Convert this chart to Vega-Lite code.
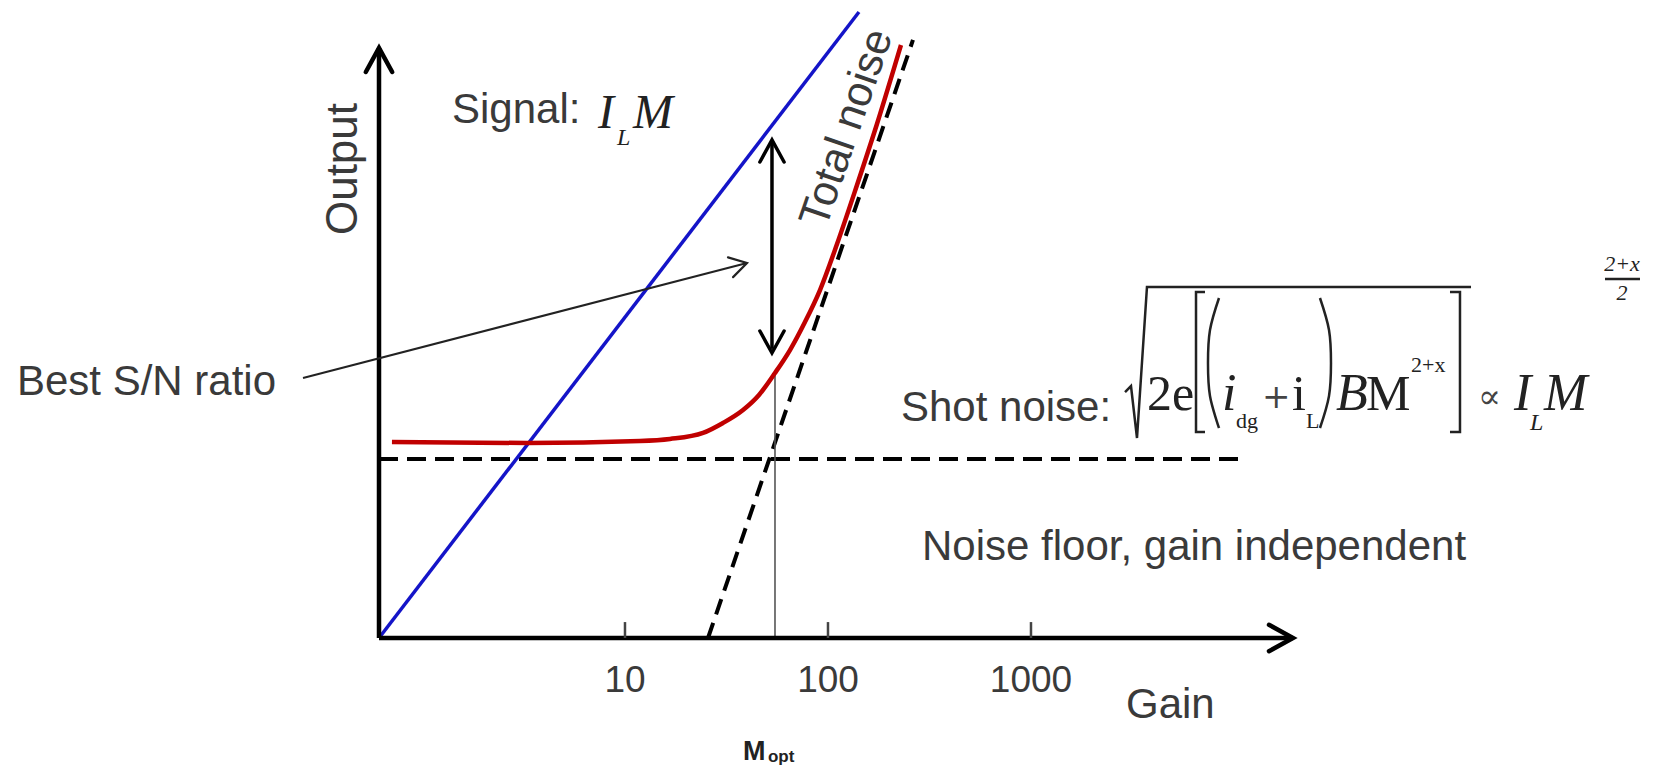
{
  "$schema": "https://vega.github.io/schema/vega-lite/v6.json",
  "autosize": {"type": "none"},
  "padding": {"left": 379, "top": 48, "right": 372, "bottom": 128},
  "width": 914,
  "height": 590,
  "background": "white",
  "config": {"view": {"stroke": null}},
  "datasets": {
    "signal": [{"g": 0.6141, "v": 0}, {"g": 142.1, "v": 10.61}],
    "floor": [{"g": 0.6141, "v": 3.034}, {"g": 11330, "v": 3.034}],
    "shot": [{"g": 25.64, "v": 0}, {"g": 262.2, "v": 10.136}],
    "total": [
      {"g": 0.7113, "v": 3.322}, {"g": 3.29, "v": 3.305}, {"g": 11.85, "v": 3.339},
      {"g": 16.66, "v": 3.373}, {"g": 24.23, "v": 3.475}, {"g": 30.39, "v": 3.644},
      {"g": 38.14, "v": 3.864}, {"g": 45.72, "v": 4.119}, {"g": 54.82, "v": 4.492},
      {"g": 64.99, "v": 4.881}, {"g": 77.03, "v": 5.356}, {"g": 91.34, "v": 5.898},
      {"g": 110.8, "v": 6.678}, {"g": 139.0, "v": 7.678}, {"g": 174.3, "v": 8.712},
      {"g": 228.9, "v": 10.051}
    ],
    "yaxis": [{"g": 0.6141, "v": 0, "v2": 10}],
    "xaxis": [{"g": 0.6141, "g2": 19530, "v": 0}],
    "ticks": [{"g": 10, "v": 0, "v2": 0.27}, {"g": 100, "v": 0, "v2": 0.27}, {"g": 1000, "v": 0, "v2": 0.27}],
    "tickLabels": [{"g": 10, "v": -0.915, "t": "10"}, {"g": 100, "v": -0.915, "t": "100"}, {"g": 1000, "v": -0.915, "t": "1000"}],
    "mopt": [{"g": 54.82, "v": 0, "v2": 4.492}],
    "snr": [{"g": 52.98, "v": 4.9, "v2": 8.4}],
    "axisTipUp": [{"g": 0.6141, "v": 10}],
    "axisTipRight": [{"g": 19530, "v": 0}],
    "snrTipUp": [{"g": 52.98, "v": 8.441}],
    "snrTipDown": [{"g": 52.98, "v": 4.831}],
    "pointer": [{"g": 0.2594, "v": 4.407, "g2": 39.9, "v2": 6.356}],
    "pointerTip": [{"g": 39.9, "v": 6.356}],
    "sansLeft": [
      {"t": "Signal:", "g": 1.405, "v": 8.729},
      {"t": "Best S/N ratio", "g": 0.01011, "v": 4.119},
      {"t": "Shot noise:", "g": 228.9, "v": 3.678},
      {"t": "Noise floor, gain independent", "g": 290.5, "v": 1.322},
      {"t": "Gain", "g": 2938, "v": -1.356}
    ],
    "output": [{"t": "Output", "g": 0.4784, "v": 7.949}],
    "totalNoise": [{"t": "Total noise", "g": 124.1, "v": 8.644}],
    "signalItalic": [{"t": "I", "g": 7.362, "v": 8.644}, {"t": "M", "g": 10.95, "v": 8.644}],
    "formulaItalic": [
      {"t": "I", "g": 239500, "v": 3.864}, {"t": "M", "g": 336600, "v": 3.864},
      {"t": "B", "g": 31800, "v": 3.864}, {"t": "i", "g": 8729, "v": 3.864}
    ],
    "serifItalicSub": [{"t": "L", "g": 9.134, "v": 8.356}, {"t": "L", "g": 287200, "v": 3.525}],
    "serifUpright": [{"t": "2e", "g": 3727, "v": 3.864}, {"t": "i", "g": 19310, "v": 3.864}, {"t": "M", "g": 44690, "v": 3.864}],
    "serifSmall": [{"t": "dg", "g": 10230, "v": 3.559}, {"t": "L", "g": 22630, "v": 3.559}, {"t": "2+x", "g": 74450, "v": 4.508}],
    "fraction": [{"t": "2+x", "g": 815500, "v": 6.22}, {"t": "2", "g": 815500, "v": 5.729}],
    "fractionBar": [{"g": 672400, "g2": 1000000, "v": 6.085}],
    "symbols": [{"t": "+", "g": 13738, "v": 3.898}, {"t": "∝", "g": 159200, "v": 3.898}],
    "moptM": [{"t": "M", "g": 38.14, "v": -2.068}],
    "moptSub": [{"t": "opt", "g": 50.63, "v": -2.102}],
    "delims": [
      {"k": "sqrt", "i": 0, "g": 2906, "v": 4.169},
      {"k": "sqrt", "i": 1, "g": 3109, "v": 4.271},
      {"k": "sqrt", "i": 2, "g": 3328, "v": 3.39},
      {"k": "sqrt", "i": 3, "g": 3727, "v": 5.949},
      {"k": "sqrt", "i": 4, "g": 147100, "v": 5.949},
      {"k": "lb", "i": 0, "g": 7197, "v": 5.864},
      {"k": "lb", "i": 1, "g": 6500, "v": 5.864},
      {"k": "lb", "i": 2, "g": 6500, "v": 3.492},
      {"k": "lb", "i": 3, "g": 7197, "v": 3.492},
      {"k": "rb", "i": 0, "g": 115900, "v": 5.864},
      {"k": "rb", "i": 1, "g": 129800, "v": 5.864},
      {"k": "rb", "i": 2, "g": 129800, "v": 3.492},
      {"k": "rb", "i": 3, "g": 115900, "v": 3.492}
    ],
    "parens": [
      {"k": "lp", "i": 0, "g": 8436, "v": 5.763},
      {"k": "lp", "i": 1, "g": 7617, "v": 5.22},
      {"k": "lp", "i": 2, "g": 7446, "v": 4.661},
      {"k": "lp", "i": 3, "g": 7617, "v": 4.102},
      {"k": "lp", "i": 4, "g": 8436, "v": 3.559},
      {"k": "rp", "i": 0, "g": 26520, "v": 5.763},
      {"k": "rp", "i": 1, "g": 29380, "v": 5.22},
      {"k": "rp", "i": 2, "g": 30050, "v": 4.661},
      {"k": "rp", "i": 3, "g": 29380, "v": 4.102},
      {"k": "rp", "i": 4, "g": 26520, "v": 3.559}
    ]
  },
  "encoding": {
    "x": {"field": "g", "type": "quantitative", "scale": {"type": "log", "domain": [0.6141, 19530], "nice": false}, "axis": null},
    "y": {"field": "v", "type": "quantitative", "scale": {"type": "linear", "domain": [0, 10], "nice": false, "zero": false}, "axis": null}
  },
  "layer": [
    {"data": {"name": "floor"}, "mark": {"type": "line", "stroke": "black", "strokeWidth": 4, "strokeDash": [19, 9]}, "encoding": {}},
    {"data": {"name": "shot"}, "mark": {"type": "line", "stroke": "black", "strokeWidth": 4, "strokeDash": [16, 9]}, "encoding": {}},
    {"data": {"name": "mopt"}, "mark": {"type": "rule", "stroke": "#555555", "strokeWidth": 1.6}, "encoding": {"y2": {"field": "v2"}}},
    {"data": {"name": "signal"}, "mark": {"type": "line", "stroke": "#1414c8", "strokeWidth": 3.5}, "encoding": {}},
    {"data": {"name": "total"}, "mark": {"type": "line", "stroke": "#c00000", "strokeWidth": 4.5, "interpolate": "monotone"}, "encoding": {}},
    {"data": {"name": "yaxis"}, "mark": {"type": "rule", "stroke": "black", "strokeWidth": 4.5}, "encoding": {"y2": {"field": "v2"}}},
    {"data": {"name": "xaxis"}, "mark": {"type": "rule", "stroke": "black", "strokeWidth": 4.5}, "encoding": {"x2": {"field": "g2"}}},
    {"data": {"name": "ticks"}, "mark": {"type": "rule", "stroke": "#444444", "strokeWidth": 2.5}, "encoding": {"y2": {"field": "v2"}}},
    {"data": {"name": "snr"}, "mark": {"type": "rule", "stroke": "black", "strokeWidth": 3.5}, "encoding": {"y2": {"field": "v2"}}},
    {"data": {"name": "pointer"}, "mark": {"type": "rule", "stroke": "#222222", "strokeWidth": 2}, "encoding": {"x2": {"field": "g2"}, "y2": {"field": "v2"}}},
    {"data": {"name": "axisTipUp"}, "mark": {"type": "point", "shape": "M-0.55,1L0,0L0.55,1", "filled": false, "stroke": "black", "strokeWidth": 4.5, "size": 2304, "opacity": 1, "strokeJoin": "miter", "strokeCap": "round"}},
    {"data": {"name": "axisTipRight"}, "mark": {"type": "point", "shape": "M-0.55,1L0,0L0.55,1", "filled": false, "stroke": "black", "strokeWidth": 4.5, "size": 2304, "opacity": 1, "angle": 90, "strokeJoin": "miter", "strokeCap": "round"}},
    {"data": {"name": "snrTipUp"}, "mark": {"type": "point", "shape": "M-0.55,1L0,0L0.55,1", "filled": false, "stroke": "black", "strokeWidth": 3.5, "size": 1936, "opacity": 1, "strokeJoin": "miter", "strokeCap": "round"}},
    {"data": {"name": "snrTipDown"}, "mark": {"type": "point", "shape": "M-0.55,1L0,0L0.55,1", "filled": false, "stroke": "black", "strokeWidth": 3.5, "size": 1936, "opacity": 1, "angle": 180, "strokeJoin": "miter", "strokeCap": "round"}},
    {"data": {"name": "pointerTip"}, "mark": {"type": "point", "shape": "M-0.6,1L0,0L0.6,1", "filled": false, "stroke": "#222222", "strokeWidth": 2.2, "size": 1156, "opacity": 1, "angle": 75.5, "strokeJoin": "miter", "strokeCap": "round"}},
    {"data": {"name": "delims"}, "mark": {"type": "line", "stroke": "#222222", "strokeWidth": 2.5}, "encoding": {"detail": {"field": "k"}, "order": {"field": "i"}}},
    {"data": {"name": "parens"}, "mark": {"type": "line", "stroke": "#222222", "strokeWidth": 2.5, "interpolate": "cardinal"}, "encoding": {"detail": {"field": "k"}, "order": {"field": "i"}}},
    {"data": {"name": "fractionBar"}, "mark": {"type": "rule", "stroke": "#222222", "strokeWidth": 2.5}, "encoding": {"x2": {"field": "g2"}}},
    {"data": {"name": "sansLeft"}, "mark": {"type": "text", "align": "left", "baseline": "alphabetic", "font": "Liberation Sans", "fontSize": 42, "color": "#3a3a3a"}, "encoding": {"text": {"field": "t"}}},
    {"data": {"name": "tickLabels"}, "mark": {"type": "text", "align": "center", "baseline": "alphabetic", "font": "Liberation Sans", "fontSize": 37, "color": "#3a3a3a"}, "encoding": {"text": {"field": "t"}}},
    {"data": {"name": "output"}, "mark": {"type": "text", "align": "center", "baseline": "alphabetic", "angle": 270, "font": "Liberation Sans", "fontSize": 44, "color": "#3a3a3a"}, "encoding": {"text": {"field": "t"}}},
    {"data": {"name": "totalNoise"}, "mark": {"type": "text", "align": "center", "baseline": "middle", "angle": 289, "font": "Liberation Sans", "fontSize": 43, "color": "#3a3a3a"}, "encoding": {"text": {"field": "t"}}},
    {"data": {"name": "signalItalic"}, "mark": {"type": "text", "align": "left", "baseline": "alphabetic", "font": "Liberation Serif", "fontStyle": "italic", "fontSize": 48, "color": "#222222"}, "encoding": {"text": {"field": "t"}}},
    {"data": {"name": "formulaItalic"}, "mark": {"type": "text", "align": "left", "baseline": "alphabetic", "font": "Liberation Serif", "fontStyle": "italic", "fontSize": 52, "color": "#222222"}, "encoding": {"text": {"field": "t"}}},
    {"data": {"name": "serifItalicSub"}, "mark": {"type": "text", "align": "left", "baseline": "alphabetic", "font": "Liberation Serif", "fontStyle": "italic", "fontSize": 24, "color": "#222222"}, "encoding": {"text": {"field": "t"}}},
    {"data": {"name": "serifUpright"}, "mark": {"type": "text", "align": "left", "baseline": "alphabetic", "font": "Liberation Serif", "fontSize": 50, "color": "#222222"}, "encoding": {"text": {"field": "t"}}},
    {"data": {"name": "serifSmall"}, "mark": {"type": "text", "align": "left", "baseline": "alphabetic", "font": "Liberation Serif", "fontSize": 22, "color": "#222222"}, "encoding": {"text": {"field": "t"}}},
    {"data": {"name": "fraction"}, "mark": {"type": "text", "align": "center", "baseline": "alphabetic", "font": "Liberation Serif", "fontStyle": "italic", "fontSize": 22, "color": "#222222"}, "encoding": {"text": {"field": "t"}}},
    {"data": {"name": "symbols"}, "mark": {"type": "text", "align": "left", "baseline": "alphabetic", "font": "DejaVu Serif", "fontSize": 34, "color": "#444444"}, "encoding": {"text": {"field": "t"}}},
    {"data": {"name": "moptM"}, "mark": {"type": "text", "align": "left", "baseline": "alphabetic", "font": "Liberation Sans", "fontWeight": "bold", "fontSize": 27, "color": "#222222"}, "encoding": {"text": {"field": "t"}}},
    {"data": {"name": "moptSub"}, "mark": {"type": "text", "align": "left", "baseline": "alphabetic", "font": "Liberation Sans", "fontWeight": "bold", "fontSize": 17, "color": "#222222"}, "encoding": {"text": {"field": "t"}}}
  ]
}
